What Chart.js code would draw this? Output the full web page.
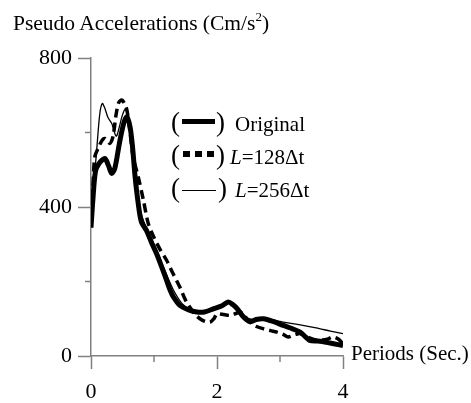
<!DOCTYPE html>
<html>
<head>
<meta charset="utf-8">
<script src="https://cdn.jsdelivr.net/npm/chart.js@4.4.1/dist/chart.umd.min.js"></script>
<style>
  body { margin: 0; background: #fff; }
  #wrap { position: relative; width: 471px; height: 403px; font-family: 'Liberation Serif', 'Times New Roman', serif; color: #000; }
  canvas { position: absolute; left: 0; top: 0; }
  .txt { position: absolute; white-space: nowrap; line-height: 1; }
  .paren { position: absolute; font-size: 27px; line-height: 1; }
  .ltext { position: absolute; font-size: 21px; line-height: 1; white-space: nowrap; }
  .sample { position: absolute; background: #000; }
</style>
</head>
<body>
<div id="wrap">
  <canvas id="c" width="471" height="403"></canvas>
  <div class="txt" style="left:13px; top:13px; font-size:21.5px;">Pseudo Accelerations (Cm/s<sup style="font-size:13px; vertical-align: 9px; line-height:0;">2</sup>)</div>
  <div class="txt" style="left:351px; top:343px; font-size:21px;">Periods (Sec.)</div>

  <div class="paren" style="left:171px; top:109px;">(</div>
  <div class="sample" style="left:182px; top:119px; width:33px; height:5px;"></div>
  <div class="paren" style="left:216px; top:109px;">)</div>
  <div class="ltext" style="left:235px; top:114px;">Original</div>

  <div class="paren" style="left:171px; top:142px;">(</div>
  <div class="sample" style="left:183px; top:151px; width:7px; height:6px;"></div>
  <div class="sample" style="left:195px; top:151px; width:7px; height:6px;"></div>
  <div class="sample" style="left:207px; top:151px; width:7px; height:6px;"></div>
  <div class="paren" style="left:216px; top:142px;">)</div>
  <div class="ltext" style="left:230px; top:147px;"><i>L</i>=128Δt</div>

  <div class="paren" style="left:171px; top:175px;">(</div>
  <div class="sample" style="left:182px; top:190px; width:34px; height:1.3px;"></div>
  <div class="paren" style="left:218px; top:175px;">)</div>
  <div class="ltext" style="left:235px; top:180px;"><i>L</i>=256Δt</div>
</div>
<script>
// ---- Data ----
const seriesNames = ['Original', 'L=128Δt', 'L=256Δt'];

const periodsOriginal = [0.0, 0.03, 0.07, 0.12, 0.22, 0.28, 0.33, 0.38, 0.45, 0.52, 0.57, 0.62, 0.66, 0.70, 0.75, 0.80, 0.88, 0.96, 1.04, 1.12, 1.20, 1.26, 1.31, 1.41, 1.55, 1.68, 1.80, 1.95, 2.08, 2.18, 2.25, 2.32, 2.42, 2.53, 2.62, 2.74, 2.90, 3.05, 3.20, 3.32, 3.40, 3.47, 3.60, 3.73, 3.85, 4.0];
const accOriginal = [345, 420, 495, 515, 530, 510, 490, 505, 570, 625, 642, 615, 560, 481, 409, 360, 337, 305, 275, 240, 203, 175, 158, 136, 124, 118, 118, 127, 135, 145, 138, 127, 105, 92, 98, 100, 92, 82, 73, 64, 52, 42, 40, 37, 33, 28];

const periodsL128 = [0.0, 0.03, 0.06, 0.12, 0.18, 0.22, 0.26, 0.30, 0.35, 0.40, 0.44, 0.49, 0.53, 0.57, 0.62, 0.67, 0.75, 0.83, 0.91, 1.00, 1.10, 1.20, 1.30, 1.41, 1.50, 1.57, 1.65, 1.73, 1.81, 1.89, 1.95, 2.00, 2.08, 2.21, 2.30, 2.37, 2.45, 2.53, 2.62, 2.74, 2.85, 2.95, 3.05, 3.13, 3.25, 3.32, 3.45, 3.55, 3.65, 3.75, 3.83, 3.90, 3.95, 4.0];
const accL128 = [345, 450, 534, 560, 580, 584, 578, 571, 590, 650, 680, 687, 678, 660, 600, 534, 481, 420, 355, 318, 285, 257, 222, 185, 150, 131, 112, 100, 93, 91, 100, 113, 112, 109, 114, 118, 105, 91, 80, 73, 68, 64, 58, 51, 58, 60, 50, 44, 43, 45, 51, 48, 42, 32];

const periodsL256 = [0.0, 0.05, 0.09, 0.14, 0.18, 0.22, 0.27, 0.33, 0.40, 0.45, 0.49, 0.54, 0.58, 0.63, 0.68, 0.73, 0.80, 0.90, 1.00, 1.15, 1.30, 1.45, 1.60, 1.75, 1.90, 2.05, 2.18, 2.30, 2.45, 2.60, 2.75, 2.90, 3.05, 3.30, 3.55, 3.80, 4.0];
const accL256 = [350, 470, 552, 651, 678, 665, 640, 624, 590, 615, 642, 662, 650, 600, 520, 440, 380, 335, 300, 239, 180, 140, 122, 118, 125, 132, 142, 125, 103, 98, 100, 96, 91, 84, 76, 67, 60];

const xTickLabels = ['0', '2', '4'];
const yTickLabels = ['0', '400', '800'];

// ---- Chart ----
const toPoints = (xs, ys) => xs.map((x, i) => ({ x: x, y: ys[i] }));
const axisColor = '#808080';
const FONT = "'Liberation Serif', 'Times New Roman', serif";

const minorTicks = {
  id: 'minorTicks',
  afterDraw(chart) {
    const ctx = chart.ctx;
    const xs = chart.scales.x, ys = chart.scales.y;
    ctx.save();
    ctx.strokeStyle = axisColor;
    ctx.lineWidth = 1.5;
    [1, 3].forEach(v => {
      const px = xs.getPixelForValue(v);
      ctx.beginPath();
      ctx.moveTo(px, xs.top);
      ctx.lineTo(px, xs.top + 6);
      ctx.stroke();
    });
    [200, 600].forEach(v => {
      const py = ys.getPixelForValue(v);
      ctx.beginPath();
      ctx.moveTo(ys.right, py);
      ctx.lineTo(ys.right - 6, py);
      ctx.stroke();
    });
    ctx.restore();
  }
};

new Chart(document.getElementById('c'), {
  type: 'line',
  data: {
    datasets: [
      {
        label: seriesNames[0],
        data: toPoints(periodsOriginal, accOriginal),
        borderColor: '#000', borderWidth: 5, pointRadius: 0, tension: 0.3, fill: false
      },
      {
        label: seriesNames[1],
        data: toPoints(periodsL128, accL128),
        borderColor: '#000', borderWidth: 3.5, borderDash: [9, 5], pointRadius: 0, tension: 0.3, fill: false
      },
      {
        label: seriesNames[2],
        data: toPoints(periodsL256, accL256),
        borderColor: '#000', borderWidth: 1.3, pointRadius: 0, tension: 0.3, fill: false
      }
    ]
  },
  options: {
    responsive: false,
    animation: false,
    devicePixelRatio: 1,
    layout: { padding: { top: 58, right: 128, left: 0, bottom: 0 } },
    plugins: { legend: { display: false }, tooltip: { enabled: false } },
    scales: {
      x: {
        type: 'linear', min: 0, max: 4,
        afterFit: s => { s.height = 47; },
        border: { display: true, color: axisColor, width: 1.5 },
        grid: {
          display: true, drawOnChartArea: false, drawTicks: true, tickLength: 13,
          tickWidth: 1.5,
          tickColor: c => (c.tick && xTickLabels.includes(String(c.tick.value))) ? axisColor : 'rgba(0,0,0,0)'
        },
        ticks: {
          stepSize: 1, padding: 10, color: '#000',
          font: { family: FONT, size: 22 },
          maxRotation: 0,
          callback: v => xTickLabels.includes(String(v)) ? String(v) : ''
        }
      },
      y: {
        type: 'linear', min: 0, max: 800,
        afterFit: s => { s.width = 91; },
        border: { display: true, color: axisColor, width: 1.5 },
        grid: {
          display: true, drawOnChartArea: false, drawTicks: true, tickLength: 13,
          tickWidth: 1.5,
          tickColor: c => (c.tick && yTickLabels.includes(String(c.tick.value))) ? axisColor : 'rgba(0,0,0,0)'
        },
        ticks: {
          stepSize: 200, padding: 6, color: '#000',
          font: { family: FONT, size: 22 },
          callback: v => yTickLabels.includes(String(v)) ? String(v) : ''
        }
      }
    }
  },
  plugins: [minorTicks]
});
</script>
</body>
</html>
